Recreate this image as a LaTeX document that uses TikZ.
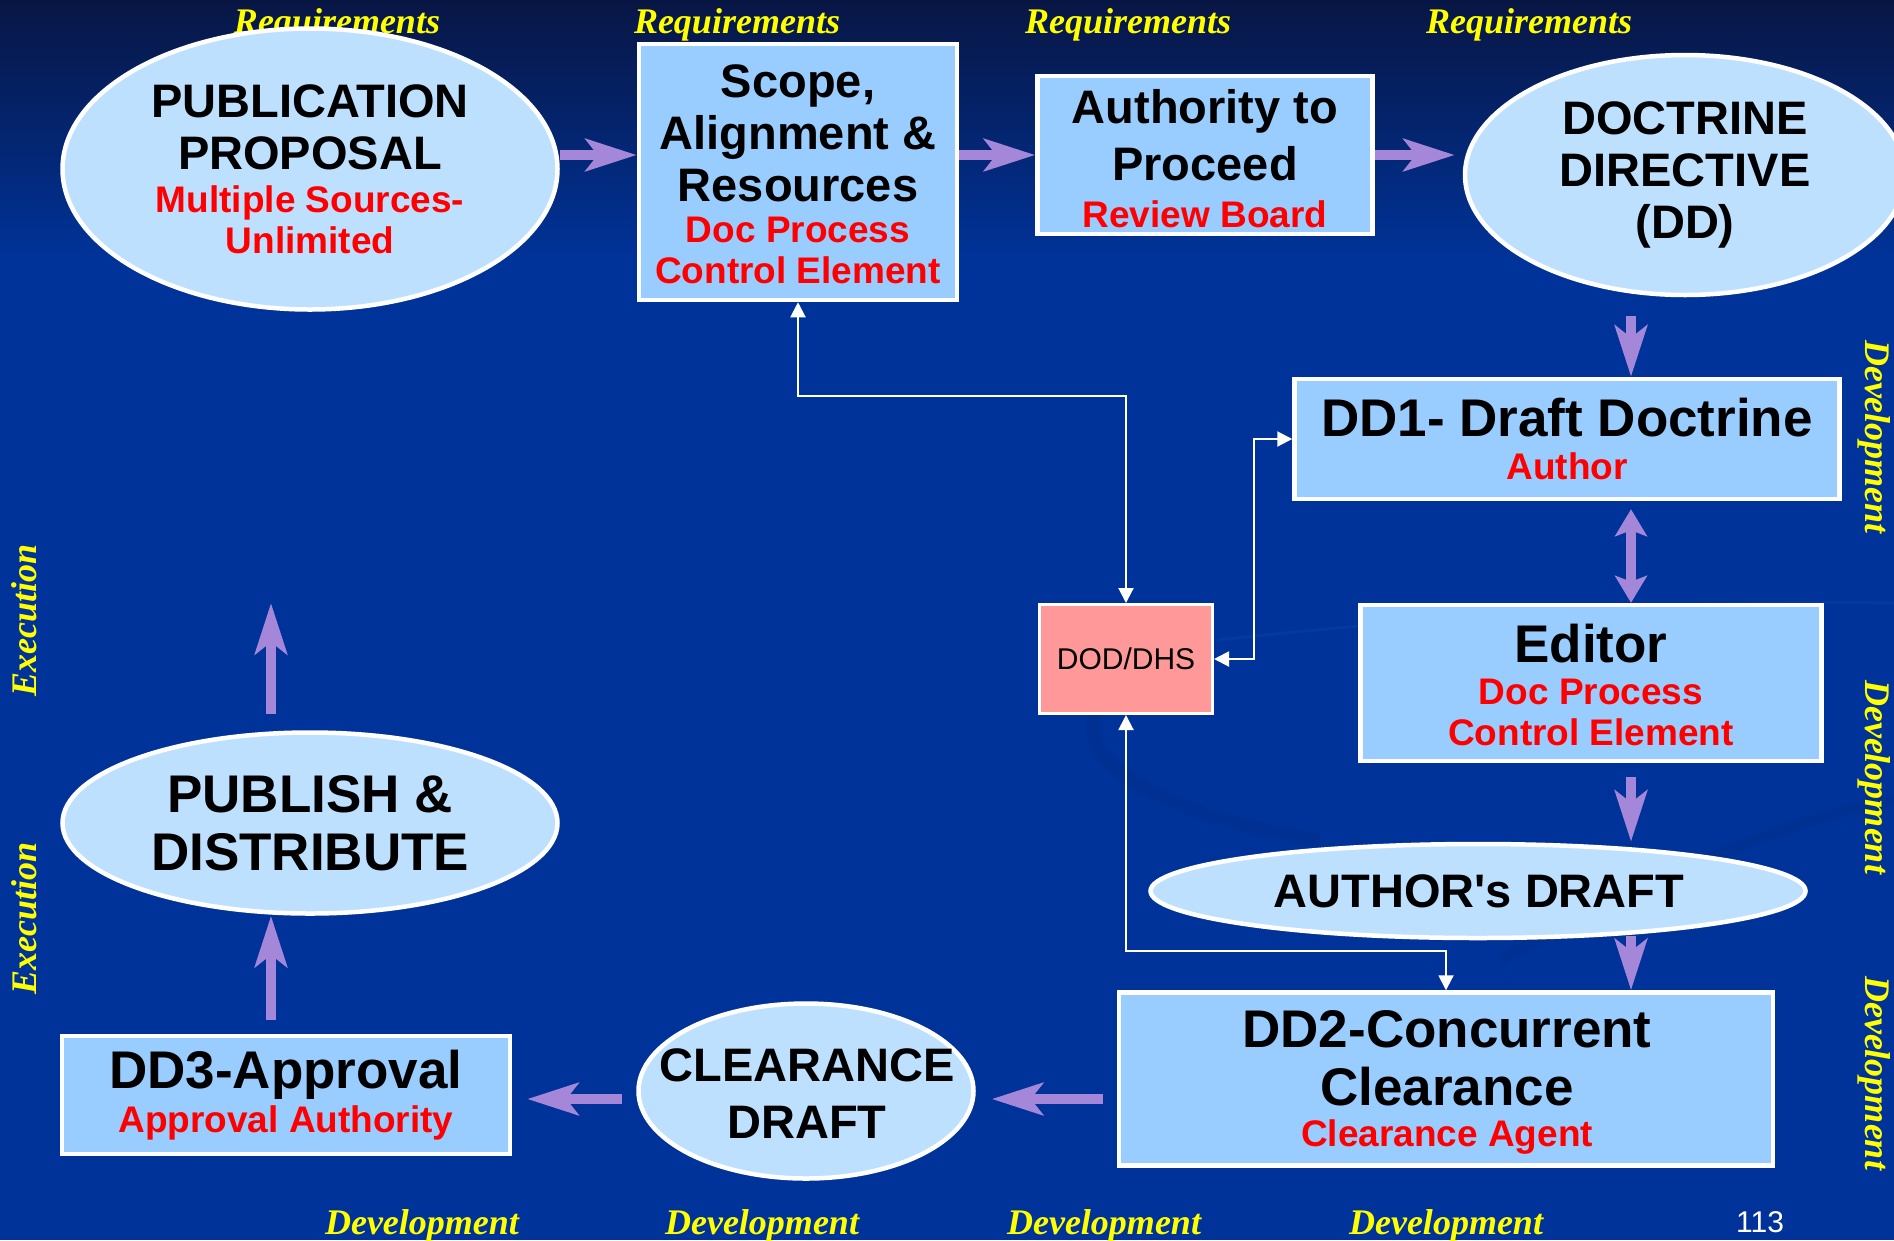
\documentclass[tikz,border=0pt]{standalone}
\usepackage{fontspec}
\setmainfont{Liberation Sans}
\newfontfamily\serifyel{Liberation Serif}
\usetikzlibrary{shapes.geometric,arrows.meta,calc}
\definecolor{bgtop}{RGB}{8,22,68}
\definecolor{bgmain}{RGB}{0,51,153}
\definecolor{boxblue}{RGB}{153,204,255}
\definecolor{ellblue}{RGB}{190,224,255}
\definecolor{lav}{RGB}{165,135,218}
\definecolor{salmon}{RGB}{255,153,153}
\definecolor{yel}{RGB}{255,255,0}
\definecolor{redtxt}{RGB}{255,0,0}
\definecolor{swoosh}{RGB}{0,40,125}
\definecolor{swooshlt}{RGB}{20,70,170}
\newcommand{\straightquote}{\XeTeXglyph\XeTeXcharglyph"27\relax}
\begin{document}
\begin{tikzpicture}[x=1pt,y=-1pt,
  box/.style={draw=white, line width=4.5pt, fill=boxblue, inner sep=0pt},
  ell/.style={ellipse, draw=white, line width=4.5pt, fill=ellblue, inner sep=0pt},
  bk/.style={align=center, inner sep=0pt, text=black, font=\bfseries\fontsize{47}{52}\selectfont},
  bkL/.style={align=center, inner sep=0pt, text=black, font=\bfseries\fontsize{53}{58}\selectfont},
  rd/.style={align=center, inner sep=0pt, text=redtxt, font=\bfseries\fontsize{37}{41}\selectfont},
  ylab/.style={inner sep=0pt, text=yel, font=\serifyel\bfseries\itshape\fontsize{36}{40}\selectfont},
  parrow/.style={draw=lav, line width=10pt, -{Stealth[length=51pt,width=32pt,inset=12pt]}},
  dparrow/.style={draw=lav, line width=10pt, {Stealth[length=27pt,width=32pt,inset=6pt]}-{Stealth[length=27pt,width=32pt,inset=6pt]}},
  wconn/.style={draw=white, line width=2pt, {Triangle[length=15pt,width=15pt]}-{Triangle[length=15pt,width=15pt]}}
]
% background
\useasboundingbox (0,0) rectangle (1894,1240);
\fill[bgmain] (0,0) rectangle (1894,1240);
\shade[top color=bgtop, bottom color=bgmain] (0,0) rectangle (1894,260);
\draw[swoosh, line width=14pt, opacity=0.22] (1216,645) .. controls (1020,690) and (1060,800) .. (1320,840);
\draw[swoosh, line width=12pt, opacity=0.22] (1500,960) .. controls (1650,880) and (1780,820) .. (1894,800);
\draw[swooshlt, line width=3pt, opacity=0.3] (1217,640) .. controls (1500,610) and (1700,600) .. (1894,603);

% top labels
\node[ylab] (r1) at (337,25) {Requirements};
\node[ylab] (r2) at (737,25) {Requirements};
\node[ylab] (r3) at (1128,25) {Requirements};
\node[ylab] (r4) at (1529,25) {Requirements};
% bottom labels
\node[ylab] (b1) at (422,1226) {Development};
\node[ylab] (b2) at (762,1226) {Development};
\node[ylab] (b3) at (1104,1226) {Development};
\node[ylab] (b4) at (1446,1226) {Development};
\node[inner sep=0pt, text=white, font=\fontsize{30}{34}\selectfont] (pg) at (1760,1222) {113};
% side labels
\node[ylab, rotate=-90] (s1) at (1874,437) {Development};
\node[ylab, rotate=-90] (s2) at (1874,777) {Development};
\node[ylab, rotate=-90] (s3) at (1874,1073) {Development};
\node[ylab, rotate=90] (e1) at (24,620) {Execution};
\node[ylab, rotate=90] (e2) at (24,918) {Execution};

% Publication proposal
\node[ell, minimum width=495, minimum height=281] (pub) at (310,169) {};
\node[bk] (pubA) at (310,127) {PUBLICATION\\PROPOSAL};
\node[rd] (pubB) at (310,220) {Multiple Sources-\\Unlimited};
% Scope
\node[box, minimum width=318, minimum height=256] (scope) at (798,172) {};
\node[bk] (scopeA) at (798,133) {Scope,\\Alignment \&\\Resources};
\node[rd] (scopeB) at (798,250) {Doc Process\\Control Element};
% Authority
\node[box, minimum width=335, minimum height=158] (auth) at (1205,155) {};
\node[bk] (authA) at (1205,135) {Authority to\\[5pt]Proceed};
\node[rd] (authB) at (1205,214) {Review Board};
% Doctrine directive
\node[ell, minimum width=440, minimum height=240] (dd) at (1685,175) {};
\node[bk] (ddA) at (1685,175) {DOCTRINE\\DIRECTIVE\\(DD)};
% DD1
\node[box, minimum width=545, minimum height=120] (dd1) at (1567,439) {};
\node[bkL] (dd1A) at (1567,418) {DD1- Draft Doctrine};
\node[rd] (dd1B) at (1567,466) {Author};
% Editor
\node[box, minimum width=461, minimum height=156] (ed) at (1591,683) {};
\node[bkL] (edA) at (1591,644) {Editor};
\node[rd] (edB) at (1591,712) {Doc Process\\Control Element};
% DOD/DHS
\node[draw=white, line width=3pt, fill=salmon, minimum width=173, minimum height=109, inner sep=0pt, text=black, font=\fontsize{30}{34}\selectfont] (dod) at (1126,659) {DOD/DHS};
% Author's draft
\node[ell, minimum width=655, minimum height=94] (ad) at (1478,891) {};
\node[bk] (adA) at (1479,891) {AUTHOR\straightquote s DRAFT};
% DD2
\node[box, minimum width=654, minimum height=173] (dd2) at (1446,1079) {};
\node[bkL] (dd2A) at (1447,1058) {DD2-Concurrent\\Clearance};
\node[rd] (dd2B) at (1447,1137) {Clearance Agent};
% Clearance draft
\node[ell, minimum width=335, minimum height=175] (cd) at (806,1091) {};
\node[bk] (cdA) at (807,1094) {CLEARANCE\\[5pt]DRAFT};
% DD3
\node[box, minimum width=448, minimum height=118] (dd3) at (286,1095) {};
\node[bkL] (dd3A) at (286,1075) {DD3-Approval};
\node[rd] (dd3B) at (286,1123) {Approval Authority};
% Publish
\node[ell, minimum width=495, minimum height=181] (pd) at (310,823) {};
\node[bkL] (pdA) at (310,823) {PUBLISH \&\\DISTRIBUTE};

% free ends
\coordinate (dtop) at (1631,316);
\coordinate (gtop) at (1631,936);
\coordinate (ktip) at (271,603);

% purple arrows
\draw[parrow] (pub.east |- 0,155) -- (scope.west |- 0,155);
\draw[parrow] (scope.east |- 0,155) -- (auth.west |- 0,155);
\draw[parrow, shorten >=8pt] (auth.east |- 0,155) -- (dd.west |- 0,155);
\draw[parrow] (dtop) -- (dtop |- dd1.north);
\draw[dparrow, shorten <=8pt] (dd1.south -| dtop) -- (ed.north -| dtop);
\draw[parrow, shorten <=14pt] (ed.south -| dtop) -- (ad.north -| dtop);
\draw[parrow] (gtop) -- (dd2.north -| gtop);
\draw[parrow, shorten <=14pt, shorten >=16pt] (dd2.west |- 0,1099) -- (cd.east |- 0,1099);
\draw[parrow, shorten <=14pt, shorten >=15pt] (cd.west |- 0,1099) -- (dd3.east |- 0,1099);
\draw[parrow, shorten <=14pt] (dd3.north -| ktip) -- (pd.south -| ktip);
\draw[parrow, shorten <=16pt] (pd.north -| ktip) -- (ktip);

% white connectors
\draw[wconn] (scope.south) -- ++(0,94) -| (dod.north);
\draw[wconn] (dod.east) -- ++(40,0) |- (dd1.west);
\draw[wconn] (dod.south) -- ++(0,236) -| (dd2.north);
\end{tikzpicture}
\end{document}
